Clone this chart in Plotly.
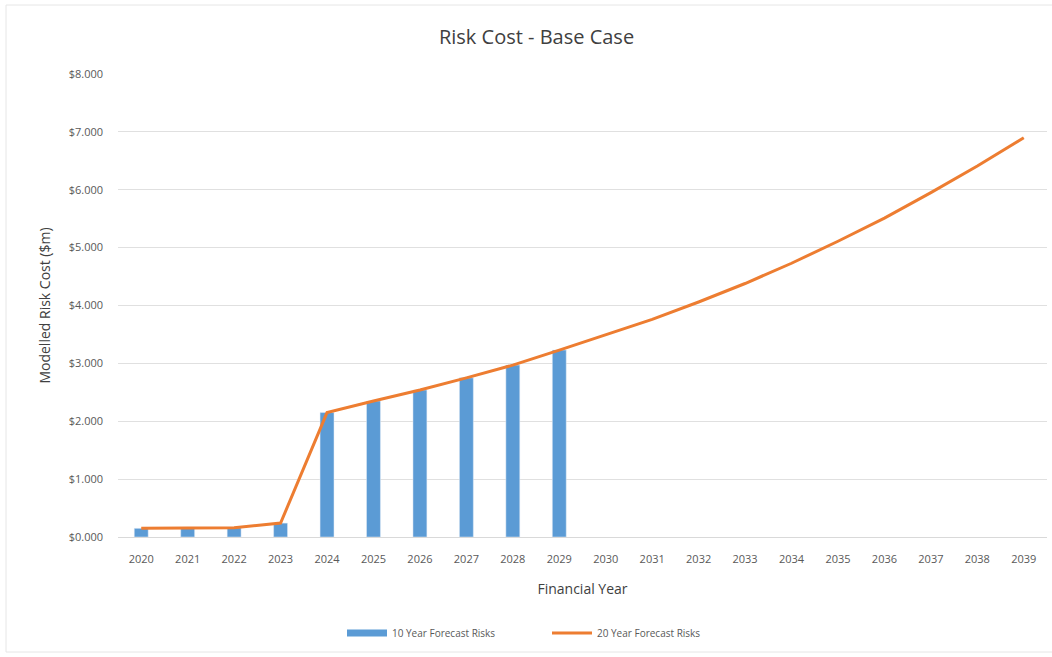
import plotly.graph_objects as go

years = [str(y) for y in range(2020, 2040)]
forecast_10yr = [0.15, 0.16, 0.16, 0.24, 2.15, 2.35, 2.54, 2.75, 2.97, 3.23]
forecast_20yr = [0.15, 0.16, 0.16, 0.24, 2.15, 2.35, 2.54, 2.75, 2.97, 3.23,
                 3.49, 3.76, 4.06, 4.38, 4.73, 5.11, 5.51, 5.95, 6.41, 6.90]
y_ticks = [0, 1, 2, 3, 4, 5, 6, 7, 8]
y_tick_labels = [f"${v:.3f}" for v in y_ticks]

BLUE = "#5b9bd5"
ORANGE = "#ed7d31"
FONT = "Open Sans, Noto Sans, sans-serif"

W, H = 1052, 657
L, R, T, B = 118, 5, 74, 120
pw, ph = W - L - R, H - T - B

def px_x(p):
    return (p - L) / pw

def px_y(p):
    return (H - B - p) / ph

fig = go.Figure()
fig.add_trace(go.Bar(
    x=years[:len(forecast_10yr)], y=forecast_10yr,
    name="10 Year Forecast Risks", marker_color=BLUE, width=0.3,
    showlegend=False,
))
# legend key drawn as a thick bar-coloured stroke
fig.add_trace(go.Scatter(
    x=[None], y=[None], mode="lines", name="10 Year Forecast Risks",
    line=dict(color=BLUE, width=7),
))
fig.add_trace(go.Scatter(
    x=years, y=forecast_20yr, mode="lines",
    name="20 Year Forecast Risks", line=dict(color=ORANGE, width=3),
))

fig.update_layout(
    width=W, height=H,
    margin=dict(l=L, r=R, t=T, b=B),
    paper_bgcolor="white", plot_bgcolor="white",
    font=dict(family=FONT, color="#595959"),
    title=dict(text="Risk Cost - Base Case", x=0.51, xanchor="center",
               y=1 - 37 / H, yanchor="middle",
               font=dict(size=20, color="#404040", family=FONT)),
    xaxis=dict(
        type="category", categoryorder="array", categoryarray=years,
        range=[-0.5, len(years) - 0.5],
        showgrid=False, showline=True, linecolor="#d9d9d9", linewidth=1,
        ticks="", tickfont=dict(size=11, color="#595959"), ticklabelstandoff=12,
        title=dict(text="Financial Year", font=dict(size=14, color="#404040"), standoff=18),
    ),
    yaxis=dict(
        range=[0, 8], tickvals=y_ticks, ticktext=y_tick_labels,
        showgrid=True, gridcolor="#e0e0e0", gridwidth=1, zeroline=False,
        ticks="", tickfont=dict(size=11, color="#595959"), ticklabelstandoff=14,
        title=dict(text="Modelled Risk Cost ($m)", font=dict(size=14, color="#404040"), standoff=14),
    ),
    legend=dict(orientation="h", x=px_x(342), xanchor="left", y=px_y(633), yanchor="middle",
                font=dict(size=10, color="#595959"), traceorder="normal",
                itemwidth=40, entrywidth=150, entrywidthmode="pixels"),
    showlegend=True,
    shapes=[dict(type="rect", xref="paper", yref="paper",
                 x0=px_x(6), x1=px_x(1060), y0=px_y(652), y1=px_y(5),
                 line=dict(color="#e6e6e6", width=1), layer="below")],
)

fig.write_html("out.html")
